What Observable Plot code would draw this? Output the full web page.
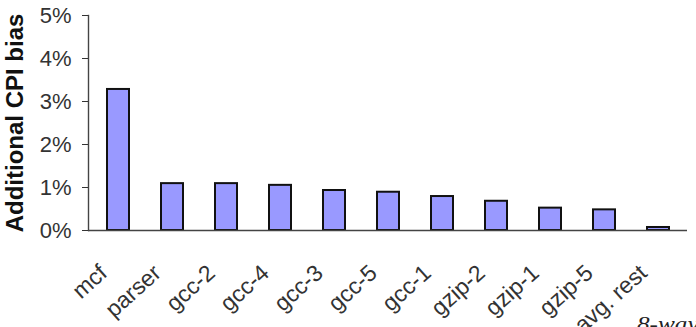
<!DOCTYPE html>
<html><head><meta charset="utf-8">
<script src="https://cdn.jsdelivr.net/npm/d3@7"></script>
<script src="https://cdn.jsdelivr.net/npm/@observablehq/plot@0.6"></script>
<style>
body{margin:0;background:#fff;}
#wrap{position:relative;width:696px;height:327px;overflow:hidden;}
#note{position:absolute;left:637px;top:312px;font:italic 21px "Liberation Serif","DejaVu Serif",serif;color:#222;transform:scaleX(1.2);transform-origin:left top;white-space:nowrap;}
</style>
</head><body><div id="wrap"><div id="chart"></div><div id="note">8-way</div></div>
<script>
const benchmarks = ["mcf","parser","gcc-2","gcc-4","gcc-3","gcc-5","gcc-1","gzip-2","gzip-1","gzip-5","avg. rest"];
const bias = [0.0328,0.0109,0.0109,0.0105,0.0093,0.0089,0.0079,0.0068,0.0052,0.0048,0.0007];
const yTicks = [0,0.01,0.02,0.03,0.04,0.05];
const yLabel = "Additional CPI bias";
const data = benchmarks.map((b,i)=>({b, v:bias[i]}));
const chart = Plot.plot({
  width:696, height:327,
  marginLeft:88, marginRight:9, marginTop:15, marginBottom:97,
  style:{fontFamily:"'Liberation Sans', Arial, sans-serif", fontSize:"21px", color:"#333", background:"#fff", overflow:"visible"},
  x:{domain:benchmarks, paddingInner:0.6, paddingOuter:0.3, label:null},
  y:{domain:[0,0.05], label:null},
  marks:[
    Plot.barY(data,{x:"b", y:"v", fill:"#9999ff", stroke:"#111", strokeWidth:2}),
    Plot.ruleY([0],{stroke:"#444", strokeWidth:1.4}),
    Plot.frame({anchor:"left", stroke:"#444", strokeWidth:1.4}),
    Plot.axisY({ticks:yTicks, tickFormat:d3.format(".0%"), tickSize:6, tickPadding:11, fontSize:22, letterSpacing:"1px", label:null}),
    Plot.axisX({tickRotate:-42, tickSize:0, tickPadding:39, dx:-15, fontSize:23, letterSpacing:"0.5px", label:null}),
    Plot.text([yLabel],{frameAnchor:"left", textAnchor:"middle", rotate:-90, dx:-73, fontWeight:"bold", fontSize:24, fill:"#111"})
  ]
});
document.getElementById("chart").appendChild(chart);
</script>
</body></html>
